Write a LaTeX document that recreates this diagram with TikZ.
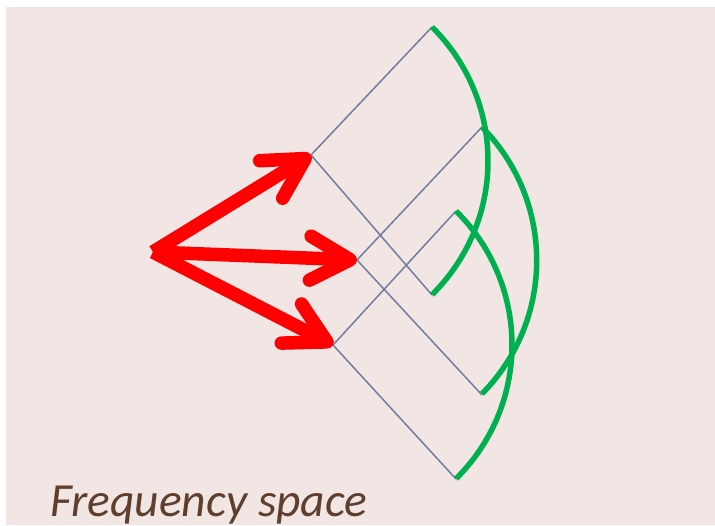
\documentclass[tikz,border=0pt]{standalone}
\usepackage{fontspec}
\newfontfamily\capfont{Carlito}
\usetikzlibrary{arrows.meta}
\definecolor{bgpink}{RGB}{241,230,228}
\definecolor{rayblue}{RGB}{112,125,160}
\definecolor{wavegreen}{RGB}{0,176,80}
\definecolor{capbrown}{RGB}{96,62,46}
\begin{document}
\begin{tikzpicture}[
    x=1pt, y=-1pt,
    ray/.style={draw=rayblue, line width=1.5pt},
    front/.style={draw=wavegreen, line width=5.5pt},
    wavevec/.style={-{Straight Barb[length=40pt, width=44pt, round]}, line width=13.5pt, red},
    caption/.style={anchor=base west, inner sep=0pt, text=capbrown, font=\capfont\itshape\fontsize{47.5}{52}\selectfont}
]
    \useasboundingbox (0,0) rectangle (715,525);
    \fill[bgpink] (6,7) rectangle (715,525);

    % Points
    \coordinate (src) at (153,252);
    \coordinate (tipA) at (311,155);
    \coordinate (tipB) at (357,260);
    \coordinate (tipC) at (333,345);
    \coordinate (upA) at (432,27);
    \coordinate (lowA) at (432,295);
    \coordinate (upB) at (482,127);
    \coordinate (lowB) at (482,395);
    \coordinate (upC) at (456,211);
    \coordinate (lowC) at (456,479);

    % Rays
    \draw[ray] (upA) -- (tipA) -- (lowA);
    \draw[ray] (upB) -- (tipB) -- (lowB);
    \draw[ray] (upC) -- (tipC) -- (lowC);

    % Wave fronts
    \draw[front] (upA) arc[start angle=-45.4, end angle=45.4, radius=188];
    \draw[front] (upB) arc[start angle=-44.6, end angle=44.6, radius=190];
    \draw[front] (upC) arc[start angle=-45.4, end angle=45.4, radius=188];

    % Arrows
    \draw[wavevec] (src) -- (tipA);
    \draw[wavevec] (src) -- (tipB);
    \draw[wavevec] (src) -- (tipC);

    \node[caption] (label) at (50,516) {Frequency space};
\end{tikzpicture}
\end{document}
